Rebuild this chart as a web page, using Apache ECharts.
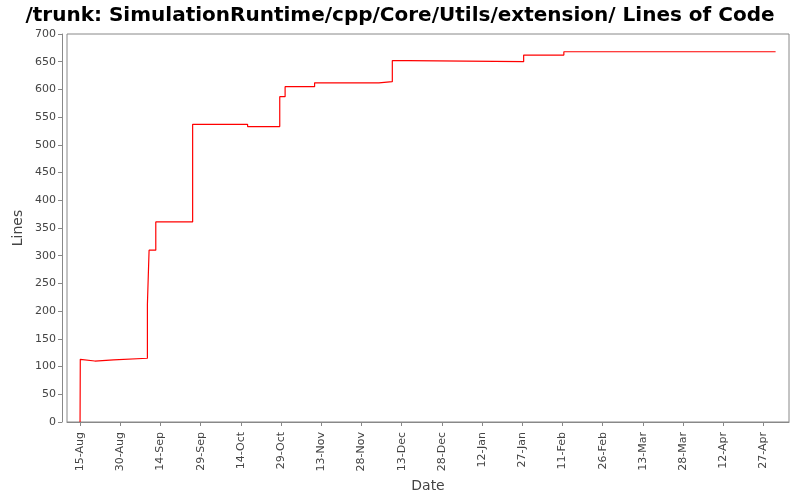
<!DOCTYPE html>
<html>
<head>
<meta charset="utf-8">
<script src="https://cdn.jsdelivr.net/npm/echarts@6/dist/echarts.min.js"></script>
<style>html,body{margin:0;padding:0;background:#fff}#c{width:800px;height:500px}</style>
</head>
<body>
<div id="c"></div>
<script>
// Data (dates as "YYYY-MM-DD HH")
var dates = [
  '2009-08-15 00', '2009-08-15 02', '2009-08-15 04', '2009-08-20 12', '2009-08-27 12',
  '2009-09-09 03', '2009-09-09 04', '2009-09-09 18', '2009-09-12 06', '2009-09-26 00',
  '2009-10-16 12', '2009-10-28 12', '2009-10-30 12', '2009-11-10 12', '2009-12-04 12',
  '2009-12-09 12', '2009-12-15 12', '2010-01-27 12', '2010-02-11 12', '2010-05-01 12'
];
var lines = [
  0, 113, 110, 112, 115,
  213, 211, 310, 361, 537,
  533, 587, 605, 612, 614,
  652, 650, 662, 668, 668
];
var tickDates = [
  '2009-08-15', '2009-08-30', '2009-09-14', '2009-09-29', '2009-10-14', '2009-10-29',
  '2009-11-13', '2009-11-28', '2009-12-13', '2009-12-28', '2010-01-12', '2010-01-27',
  '2010-02-11', '2010-02-26', '2010-03-13', '2010-03-28', '2010-04-12', '2010-04-27'
];
var monthNames = ['Jan','Feb','Mar','Apr','May','Jun','Jul','Aug','Sep','Oct','Nov','Dec'];
var xMinDate = '2009-08-10 03';
var xMaxDate = '2010-05-06 12';

function ts(s) {
  var p = s.split(/[- ]/);
  return Date.UTC(+p[0], +p[1] - 1, +p[2], p[3] ? +p[3] : 0);
}
function fmt(v) {
  var d = new Date(v);
  return d.getUTCDate() + '-' + monthNames[d.getUTCMonth()];
}

var seriesData = dates.map(function (d, i) { return [ts(d), lines[i]]; });
var tickVals = tickDates.map(ts);

var chart = echarts.init(document.getElementById('c'), null, { renderer: 'canvas' });
var font = 'DejaVu Sans';
chart.setOption({
  animation: false,
  backgroundColor: '#ffffff',
  title: {
    text: '/trunk: SimulationRuntime/cpp/Core/Utils/extension/ Lines of Code',
    left: 'center',
    top: 1,
    textStyle: { fontFamily: font, fontSize: 20, fontWeight: 'bold', color: '#000' }
  },
  grid: {
    left: 67, right: 11, top: 34, bottom: 78,
    outerBoundsMode: 'none',
    containLabel: false,
    show: true, borderColor: '#888888', borderWidth: 1, backgroundColor: '#ffffff'
  },
  xAxis: {
    type: 'value',
    min: ts(xMinDate),
    max: ts(xMaxDate),
    offset: 4,
    name: 'Date',
    nameLocation: 'middle',
    nameGap: 53,
    nameMoveOverlap: false,
    nameTextStyle: { fontFamily: font, fontSize: 14, color: '#444' },
    axisLine: { show: true, lineStyle: { color: '#888888', width: 1 } },
    axisTick: { show: true, length: 4, lineStyle: { color: '#888888' }, customValues: tickVals },
    axisLabel: {
      rotate: 90, fontFamily: font, fontSize: 11, color: '#444', margin: 6,
      customValues: tickVals, formatter: fmt
    },
    splitLine: { show: false }
  },
  yAxis: {
    type: 'value',
    min: 0, max: 700, interval: 50,
    offset: 5,
    name: 'Lines',
    nameLocation: 'middle',
    nameGap: 37,
    nameMoveOverlap: false,
    nameTextStyle: { fontFamily: font, fontSize: 14, color: '#444' },
    axisLine: { show: true, lineStyle: { color: '#888888', width: 1 } },
    axisTick: { show: true, length: 4, lineStyle: { color: '#888888' } },
    axisLabel: { fontFamily: font, fontSize: 11, color: '#444', margin: 6 },
    splitLine: { show: false }
  },
  series: [{
    type: 'line',
    step: 'end',
    data: seriesData,
    showSymbol: false,
    symbol: 'none',
    lineStyle: { color: '#ff0000', width: 1.2 },
    itemStyle: { color: '#ff0000' }
  }]
});
</script>
</body>
</html>
